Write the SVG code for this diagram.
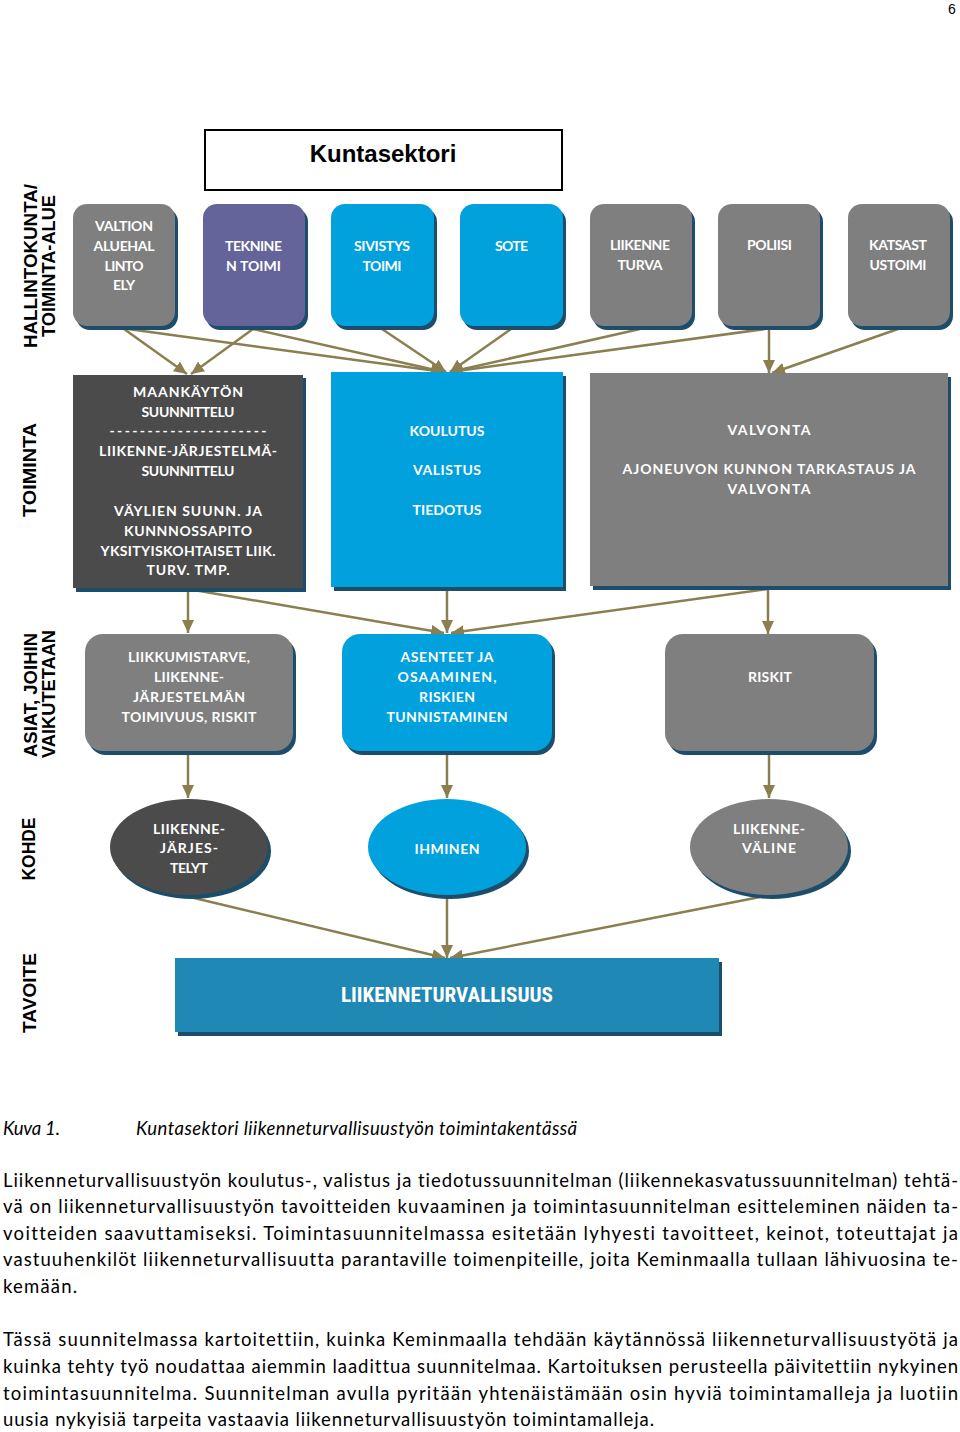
<svg xmlns="http://www.w3.org/2000/svg" width="960" height="1432" viewBox="0 0 960 1432">
<defs>
<style>
.sh{fill:#1c4d6b}
.gray{fill:#7f7f7f}
.dark{fill:#4b4b4b}
.purple{fill:#65649a}
.blue{fill:#00a1dd}
.goal{fill:#1f88b4}
.nt{font-family:Lato,"Open Sans","Liberation Sans",sans-serif;font-weight:bold;font-size:14px;fill:#ffffff;text-anchor:middle;font-variant-ligatures:none}
.side{font-family:"Liberation Sans",Arial,sans-serif;font-weight:bold;font-size:19px;fill:#000000;text-anchor:middle}
.body{font-family:Lato,"Liberation Sans",sans-serif;font-size:18.5px;fill:#000000;font-variant-ligatures:none}
.cap{font-family:Lato,"Liberation Sans",sans-serif;font-size:18.5px;font-style:italic;fill:#000000;font-variant-ligatures:none}
.conn{stroke:#8b7f50;stroke-width:2.5;fill:none;marker-end:url(#ah)}
</style>
<marker id="ah" markerUnits="userSpaceOnUse" markerWidth="14" markerHeight="12" refX="13" refY="6" orient="auto">
<path d="M0,0 L13,6 L0,12 Z" fill="#8b7f50"/>
</marker>
</defs>
<rect width="960" height="1432" fill="#ffffff"/>

<text x="952" y="14" font-family="Liberation Sans,Arial,sans-serif" font-size="14" text-anchor="middle">6</text>

<g id="title">
<rect x="205" y="130" width="357" height="60" fill="#ffffff" stroke="#000000" stroke-width="2"/>
<text x="383" y="162" font-family="Liberation Sans,Arial,sans-serif" font-weight="bold" font-size="24" text-anchor="middle">Kuntasektori</text>
</g>

<g id="side-labels">
<text class="side" transform="translate(37,266) rotate(-90)" textLength="164" lengthAdjust="spacingAndGlyphs">HALLINTOKUNTA/</text>
<text class="side" transform="translate(55,266) rotate(-90)" textLength="142" lengthAdjust="spacingAndGlyphs">TOIMINTA-ALUE</text>
<text class="side" transform="translate(36,470) rotate(-90)" textLength="94" lengthAdjust="spacingAndGlyphs">TOIMINTA</text>
<text class="side" transform="translate(37,695) rotate(-90)" textLength="124" lengthAdjust="spacingAndGlyphs">ASIAT, JOIHIN</text>
<text class="side" transform="translate(55,694) rotate(-90)" textLength="128" lengthAdjust="spacingAndGlyphs">VAIKUTETAAN</text>
<text class="side" transform="translate(35,849) rotate(-90)" textLength="63" lengthAdjust="spacingAndGlyphs">KOHDE</text>
<text class="side" transform="translate(36,993) rotate(-90)" textLength="80" lengthAdjust="spacingAndGlyphs">TAVOITE</text>
</g>

<g id="connectors">
<line class="conn" x1="124" y1="329" x2="187" y2="374"/>
<line class="conn" x1="253" y1="329" x2="191" y2="374"/>
<line class="conn" x1="128" y1="329" x2="444" y2="372"/>
<line class="conn" x1="253" y1="329" x2="444" y2="372"/>
<line class="conn" x1="382" y1="329" x2="446" y2="372"/>
<line class="conn" x1="511" y1="329" x2="450" y2="372"/>
<line class="conn" x1="640" y1="329" x2="450" y2="372"/>
<line class="conn" x1="765" y1="329" x2="450" y2="372"/>
<line class="conn" x1="769" y1="329" x2="769" y2="373"/>
<line class="conn" x1="898" y1="329" x2="772" y2="373"/>
<line class="conn" x1="188" y1="589" x2="188" y2="633"/>
<line class="conn" x1="188" y1="589" x2="444" y2="633"/>
<line class="conn" x1="447" y1="589" x2="447" y2="633"/>
<line class="conn" x1="768" y1="589" x2="451" y2="633"/>
<line class="conn" x1="768" y1="589" x2="768" y2="634"/>
<line class="conn" x1="188" y1="754" x2="188" y2="798"/>
<line class="conn" x1="447" y1="754" x2="447" y2="798"/>
<line class="conn" x1="769" y1="754" x2="769" y2="798"/>
<line class="conn" x1="190" y1="897" x2="445" y2="958"/>
<line class="conn" x1="447" y1="898" x2="447" y2="958"/>
<line class="conn" x1="760" y1="897" x2="450" y2="958"/>
</g>

<g id="valtion">
<rect class="sh" x="76" y="208" width="102" height="122" rx="14"/>
<rect class="gray" x="73" y="204" width="102" height="122" rx="14"/>
<text class="nt" x="124" y="231" textLength="58">VALTION</text>
<text class="nt" x="124" y="251" textLength="61">ALUEHAL</text>
<text class="nt" x="124" y="271" textLength="39">LINTO</text>
<text class="nt" x="124" y="290" textLength="22">ELY</text>
</g>
<g id="tekninen">
<rect class="sh" x="206" y="208" width="102" height="122" rx="14"/>
<rect class="purple" x="203" y="204" width="102" height="122" rx="14"/>
<text class="nt" x="253.5" y="251" textLength="57">TEKNINE</text>
<text class="nt" x="253.5" y="271" textLength="55">N TOIMI</text>
</g>
<g id="sivistys">
<rect class="sh" x="334" y="208" width="103" height="122" rx="14"/>
<rect class="blue" x="331" y="204" width="103" height="122" rx="14"/>
<text class="nt" x="382" y="251" textLength="56">SIVISTYS</text>
<text class="nt" x="382" y="271" textLength="39">TOIMI</text>
</g>
<g id="sote">
<rect class="sh" x="463" y="208" width="103" height="122" rx="14"/>
<rect class="blue" x="460" y="204" width="103" height="122" rx="14"/>
<text class="nt" x="511.5" y="251" textLength="33">SOTE</text>
</g>
<g id="liikenneturva">
<rect class="sh" x="593" y="208" width="102" height="122" rx="14"/>
<rect class="gray" x="590" y="204" width="102" height="122" rx="14"/>
<text class="nt" x="640" y="250" textLength="60">LIIKENNE</text>
<text class="nt" x="640" y="270" textLength="45">TURVA</text>
</g>
<g id="poliisi">
<rect class="sh" x="721" y="208" width="102" height="122" rx="14"/>
<rect class="gray" x="718" y="204" width="102" height="122" rx="14"/>
<text class="nt" x="769.5" y="250" textLength="45">POLIISI</text>
</g>
<g id="katsastus">
<rect class="sh" x="851" y="208" width="102" height="122" rx="14"/>
<rect class="gray" x="848" y="204" width="102" height="122" rx="14"/>
<text class="nt" x="898" y="250" textLength="58">KATSAST</text>
<text class="nt" x="898" y="270" textLength="57">USTOIMI</text>
</g>

<g id="maankaytto">
<rect class="sh" x="76" y="378" width="230" height="214"/>
<rect class="dark" x="73" y="375" width="230" height="213"/>
<text class="nt" x="188" y="397" textLength="110">MAANKÄYTÖN</text>
<text class="nt" x="188" y="417" textLength="93">SUUNNITTELU</text>
<text class="nt" x="188" y="436" textLength="157">---------------------</text>
<text class="nt" x="188" y="456" textLength="178">LIIKENNE-JÄRJESTELMÄ-</text>
<text class="nt" x="188" y="476" textLength="93">SUUNNITTELU</text>
<text class="nt" x="188" y="516" textLength="148">VÄYLIEN SUUNN. JA</text>
<text class="nt" x="188" y="536" textLength="128">KUNNNOSSAPITO</text>
<text class="nt" x="188" y="556" textLength="175">YKSITYISKOHTAISET LIIK.</text>
<text class="nt" x="188" y="575" textLength="83">TURV. TMP.</text>
</g>
<g id="koulutus">
<rect class="sh" x="334" y="376" width="232" height="215"/>
<rect class="blue" x="331" y="372" width="232" height="215"/>
<text class="nt" x="447" y="436" textLength="75">KOULUTUS</text>
<text class="nt" x="447" y="475" textLength="68">VALISTUS</text>
<text class="nt" x="447" y="515" textLength="69">TIEDOTUS</text>
</g>
<g id="valvonta">
<rect class="sh" x="593" y="377" width="358" height="213"/>
<rect class="gray" x="590" y="373" width="358" height="213"/>
<text class="nt" x="769" y="435" textLength="83">VALVONTA</text>
<text class="nt" x="769" y="474" textLength="293">AJONEUVON KUNNON TARKASTAUS JA</text>
<text class="nt" x="769" y="494" textLength="83">VALVONTA</text>
</g>

<g id="liikkumistarve">
<rect class="sh" x="88" y="638" width="208" height="117" rx="18"/>
<rect class="gray" x="85" y="634" width="208" height="117" rx="18"/>
<text class="nt" x="189" y="662" textLength="122">LIIKKUMISTARVE,</text>
<text class="nt" x="189" y="682" textLength="70">LIIKENNE-</text>
<text class="nt" x="189" y="702" textLength="112">JÄRJESTELMÄN</text>
<text class="nt" x="189" y="722" textLength="135">TOIMIVUUS, RISKIT</text>
</g>
<g id="asenteet">
<rect class="sh" x="345" y="638" width="210" height="117" rx="18"/>
<rect class="blue" x="342" y="634" width="210" height="117" rx="18"/>
<text class="nt" x="447" y="662" textLength="93">ASENTEET JA</text>
<text class="nt" x="447" y="682" textLength="99">OSAAMINEN,</text>
<text class="nt" x="447" y="702" textLength="56">RISKIEN</text>
<text class="nt" x="447" y="722" textLength="121">TUNNISTAMINEN</text>
</g>
<g id="riskit">
<rect class="sh" x="668" y="638" width="209" height="117" rx="18"/>
<rect class="gray" x="665" y="634" width="209" height="117" rx="18"/>
<text class="nt" x="770" y="682" textLength="44">RISKIT</text>
</g>

<g id="liikennejarjestelyt">
<ellipse class="sh" cx="192" cy="851" rx="79" ry="48"/>
<ellipse class="dark" cx="189" cy="847" rx="79" ry="48"/>
<text class="nt" x="189" y="834" textLength="72">LIIKENNE-</text>
<text class="nt" x="189" y="853" textLength="58">JÄRJES-</text>
<text class="nt" x="189" y="873" textLength="38">TELYT</text>
</g>
<g id="ihminen">
<ellipse class="sh" cx="450" cy="851" rx="79" ry="48"/>
<ellipse class="blue" cx="447" cy="847" rx="79" ry="48"/>
<text class="nt" x="447" y="854" textLength="65">IHMINEN</text>
</g>
<g id="liikennevaline">
<ellipse class="sh" cx="772" cy="851" rx="79" ry="48"/>
<ellipse class="gray" cx="769" cy="847" rx="79" ry="48"/>
<text class="nt" x="769" y="834" textLength="72">LIIKENNE-</text>
<text class="nt" x="769" y="853" textLength="54">VÄLINE</text>
</g>

<g id="liikenneturvallisuus">
<rect class="sh" x="178" y="962" width="544" height="74"/>
<rect class="goal" x="175" y="958" width="544" height="74"/>
<text x="447" y="1002" font-family="'Liberation Sans Narrow','Roboto Condensed','Liberation Sans',sans-serif" font-weight="bold" font-size="20" fill="#ffffff" text-anchor="middle" textLength="212" lengthAdjust="spacingAndGlyphs">LIIKENNETURVALLISUUS</text>
</g>

<g id="caption">
<text class="cap" x="3" y="1135" textLength="57">Kuva 1.</text>
<text class="cap" x="136" y="1135" textLength="441">Kuntasektori liikenneturvallisuustyön toimintakentässä</text>
</g>

<g id="body-text">
<text class="body" x="3" y="1187" textLength="955">Liikenneturvallisuustyön koulutus-, valistus ja tiedotussuunnitelman (liikennekasvatussuunnitelman) tehtä-</text>
<text class="body" x="3" y="1213" textLength="955">vä on liikenneturvallisuustyön tavoitteiden kuvaaminen ja toimintasuunnitelman esitteleminen näiden ta-</text>
<text class="body" x="3" y="1240" textLength="955">voitteiden saavuttamiseksi. Toimintasuunnitelmassa esitetään lyhyesti tavoitteet, keinot, toteuttajat ja</text>
<text class="body" x="3" y="1266" textLength="955">vastuuhenkilöt liikenneturvallisuutta parantaville toimenpiteille, joita Keminmaalla tullaan lähivuosina te-</text>
<text class="body" x="3" y="1293" textLength="74">kemään.</text>
<text class="body" x="3" y="1346" textLength="955">Tässä suunnitelmassa kartoitettiin, kuinka Keminmaalla tehdään käytännössä liikenneturvallisuustyötä ja</text>
<text class="body" x="3" y="1373" textLength="955">kuinka tehty työ noudattaa aiemmin laadittua suunnitelmaa. Kartoituksen perusteella päivitettiin nykyinen</text>
<text class="body" x="3" y="1400" textLength="955">toimintasuunnitelma. Suunnitelman avulla pyritään yhtenäistämään osin hyviä toimintamalleja ja luotiin</text>
<text class="body" x="3" y="1426" textLength="651">uusia nykyisiä tarpeita vastaavia liikenneturvallisuustyön toimintamalleja.</text>
</g>
</svg>
